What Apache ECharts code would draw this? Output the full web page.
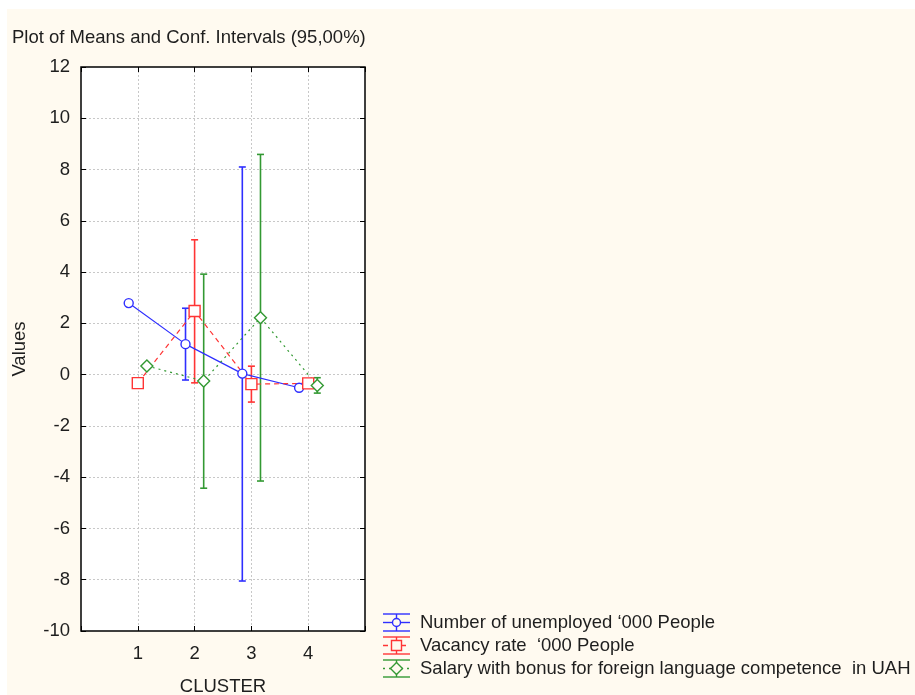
<!DOCTYPE html>
<html>
<head>
<meta charset="utf-8">
<script src="https://cdn.jsdelivr.net/npm/echarts@6/dist/echarts.min.js"></script>
<style>
  html, body { margin: 0; padding: 0; background: #fff; }
  #chart { width: 915px; height: 695px; }
</style>
</head>
<body>
<div id="chart"></div>
<script>
// Cluster means with 95% confidence limits (null where no interval is shown)
const clusters = [1, 2, 3, 4];
const yTicks = [-10, -8, -6, -4, -2, 0, 2, 4, 6, 8, 10, 12];

const seriesNames = [
  "Number of unemployed \u2018000 People",
  "Vacancy rate  \u2018000 People",
  "Salary with bonus for foreign language competence  in UAH"
];

const unemployedMean = [2.79, 1.19, 0.04, -0.51];
const unemployedLow  = [null, -0.21, -8.05, null];
const unemployedHigh = [null, 2.59, 8.10, null];

const vacancyMean = [-0.33, 2.48, -0.37, -0.34];
const vacancyLow  = [null, -0.32, -1.07, null];
const vacancyHigh = [null, 5.26, 0.33, null];

const salaryMean = [0.34, -0.25, 2.22, -0.42];
const salaryLow  = [null, -4.43, -4.15, -0.72];
const salaryHigh = [null, 3.92, 8.59, -0.12];

const FONT = "'Liberation Sans', Arial, sans-serif";
const FS = 18.5;
const TEXT = '#1e1e1e';

const groups = [
  { name: seriesNames[0], mean: unemployedMean, low: unemployedLow, high: unemployedHigh,
    color: '#2f2fff', symbol: 'circle', size: 9, dash: 'solid', shift: -0.16 },
  { name: seriesNames[1], mean: vacancyMean, low: vacancyLow, high: vacancyHigh,
    color: '#ff3535', symbol: 'rect', size: 11, dash: [5, 4], shift: 0 },
  { name: seriesNames[2], mean: salaryMean, low: salaryLow, high: salaryHigh,
    color: '#339933', symbol: 'diamond', size: 12, dash: [2, 4], shift: 0.16 }
];

const series = [];
groups.forEach(g => {
  // confidence interval whiskers
  const bars = [];
  clusters.forEach((c, i) => {
    if (g.low[i] != null) bars.push([c + g.shift, g.low[i], g.high[i]]);
  });
  series.push({
    type: 'custom',
    name: g.name,
    z: 3,
    data: bars,
    renderItem: (params, api) => {
      const x = api.value(0);
      const lo = api.coord([x, api.value(1)]);
      const hi = api.coord([x, api.value(2)]);
      const w = 3.5;
      const style = { stroke: g.color, lineWidth: 1.6 };
      return {
        type: 'group',
        children: [
          { type: 'line', shape: { x1: lo[0], y1: lo[1], x2: hi[0], y2: hi[1] }, style },
          { type: 'line', shape: { x1: hi[0] - w, y1: hi[1], x2: hi[0] + w, y2: hi[1] }, style },
          { type: 'line', shape: { x1: lo[0] - w, y1: lo[1], x2: lo[0] + w, y2: lo[1] }, style }
        ]
      };
    }
  });
  // means joined by line
  series.push({
    type: 'line',
    name: g.name,
    z: 4,
    data: clusters.map((c, i) => [c + g.shift, g.mean[i]]),
    symbol: g.symbol,
    symbolSize: g.size,
    showAllSymbol: true,
    lineStyle: { color: g.color, width: 1.2, type: g.dash },
    itemStyle: { color: '#fff', borderColor: g.color, borderWidth: 1.4 }
  });
});

// legend drawn as whisker icons with text
const legendItems = [];
groups.forEach((g, k) => {
  const top = [614, 637, 660][k];
  const bot = top + 17;
  const mid = (top + bot) / 2;
  const x0 = 383, x1 = 410, xc = 396.5;
  const st = { stroke: g.color, lineWidth: 1.4 };
  const dashSt = Object.assign({}, st, { lineDash: g.dash === 'solid' ? null : g.dash });
  legendItems.push(
    { type: 'line', shape: { x1: x0, y1: top, x2: x1, y2: top }, style: st },
    { type: 'line', shape: { x1: x0, y1: bot, x2: x1, y2: bot }, style: st },
    { type: 'line', shape: { x1: xc, y1: top, x2: xc, y2: bot }, style: st },
    { type: 'line', shape: { x1: x0, y1: mid, x2: x1, y2: mid }, style: dashSt }
  );
  let marker;
  if (g.symbol === 'circle') {
    marker = { type: 'circle', shape: { cx: xc, cy: mid, r: 4 } };
  } else if (g.symbol === 'rect') {
    marker = { type: 'rect', shape: { x: xc - 5, y: mid - 5, width: 10, height: 10 } };
  } else {
    marker = { type: 'polygon', shape: { points: [[xc, mid - 6], [xc + 6, mid], [xc, mid + 6], [xc - 6, mid]] } };
  }
  marker.style = { fill: '#fffaf0', stroke: g.color, lineWidth: 1.4 };
  legendItems.push(marker);
  legendItems.push({
    type: 'text', x: 420, y: mid,
    style: { text: g.name, font: FS + 'px ' + FONT, fill: TEXT, verticalAlign: 'middle' }
  });
});

const chart = echarts.init(document.getElementById('chart'), null, { renderer: 'canvas' });

const valueAxisCommon = {
  min: yTicks[0],
  max: yTicks[yTicks.length - 1],
  interval: 2
};

const gridLine = {
  show: true, showMinLine: false, showMaxLine: false,
  lineStyle: { color: '#c8c8c8', type: [2, 2], width: 1 }
};
const hiddenLine = { show: false, onZero: false };
const innerTick = { show: true, inside: true, length: 5, lineStyle: { color: '#000' } };

chart.setOption({
  backgroundColor: '#ffffff',
  animation: false,
  title: {
    text: 'Plot of Means and Conf. Intervals (95,00%)',
    left: 7, top: 23,
    textStyle: { fontFamily: FONT, fontSize: FS, fontWeight: 'normal', color: TEXT }
  },
  grid: {
    left: 81, right: 550, top: 67, bottom: 64,
    outerBoundsMode: 'none', containLabel: false,
    show: true, backgroundColor: '#ffffff', borderColor: '#000', borderWidth: 1.5
  },
  graphic: [
    { type: 'rect', z: -10, silent: true, shape: { x: 7, y: 9, width: 908, height: 686 },
      style: { fill: '#fffaf0' } },
    { type: 'group', children: legendItems }
  ],
  xAxis: [{
    type: 'value', min: 0, max: 5, interval: 1, position: 'bottom',
    name: 'CLUSTER', nameLocation: 'middle', nameGap: 46,
    nameTextStyle: { fontFamily: FONT, fontSize: FS, color: TEXT },
    axisLine: hiddenLine,
    axisTick: innerTick,
    axisLabel: {
      margin: 13, fontFamily: FONT, fontSize: FS, color: TEXT,
      formatter: v => (clusters.indexOf(v) >= 0 ? String(v) : '')
    },
    splitLine: gridLine
  }, {
    type: 'value', min: 0, max: 5, interval: 1, position: 'top',
    axisLine: hiddenLine,
    axisTick: innerTick,
    axisLabel: { show: false }, splitLine: { show: false }
  }],
  yAxis: [Object.assign({
    type: 'value', position: 'left',
    name: 'Values', nameLocation: 'middle', nameGap: 52, nameRotate: 90,
    nameTextStyle: { fontFamily: FONT, fontSize: FS, color: TEXT },
    axisLine: hiddenLine,
    axisTick: innerTick,
    axisLabel: { margin: 11, fontFamily: FONT, fontSize: FS, color: TEXT },
    splitLine: gridLine
  }, valueAxisCommon), Object.assign({
    type: 'value', position: 'right',
    axisLine: hiddenLine,
    axisTick: innerTick,
    axisLabel: { show: false }, splitLine: { show: false }
  }, valueAxisCommon)],
  series: series
});
</script>
</body>
</html>
